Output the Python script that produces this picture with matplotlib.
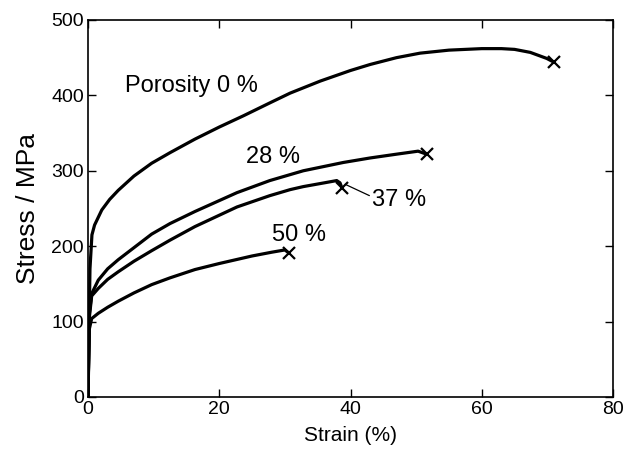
import matplotlib
matplotlib.use("Agg")
import matplotlib.pyplot as plt

plt.rcParams['font.family'] = ['Liberation Sans', 'DejaVu Sans']

# stress-strain curves (strain %, stress MPa)
strain_0 = [0, 0.3, 0.6, 1.0, 2.1, 3.3, 4.6, 7, 9.7, 12.5, 16.3, 20, 23.7, 27.7, 30.8,
            35.4, 40, 43, 47, 50.6, 55, 60, 63, 65, 67.4, 69.9, 71.0]
stress_0 = [0, 170, 215, 228, 248, 262, 274, 293, 310, 324, 342, 358, 373, 390, 403,
            419, 433, 441, 450, 456, 460, 462, 462, 461, 457, 449, 444]

strain_28 = [0, 0.2, 0.56, 1.57, 3, 4.6, 7, 9.7, 12.5, 16.3, 22.7, 27.7, 32.8, 38.9,
             43, 47, 50.3, 51.6]
stress_28 = [0, 110, 137, 155, 170, 182, 198, 216, 230, 246, 271, 287, 300, 311,
             317, 322, 326, 322]

strain_37 = [0, 0.2, 0.56, 1.57, 3, 4.6, 7, 9.7, 12.5, 16.3, 22.7, 27.7, 30.8, 32.8,
             36, 37.9, 38.4, 38.7]
stress_37 = [0, 105, 134, 144, 156, 166, 180, 194, 208, 226, 252, 267, 275, 279,
             284, 287, 284, 277]

strain_50 = [0, 0.2, 0.56, 1.57, 3, 4.6, 7, 9.7, 12.5, 16.3, 20, 25, 28, 30, 30.6]
stress_50 = [0, 90, 104, 111, 119, 127, 138, 149, 158, 169, 177, 187, 192, 195, 191]

curves = [(strain_0, stress_0), (strain_28, stress_28),
          (strain_37, stress_37), (strain_50, stress_50)]

labels = ["Porosity 0 %", "28 %", "37 %", "50 %"]
label_x = [5.6, 24.1, 43.3, 28.0]
label_y = [405, 310, 253, 207]

fig = plt.figure(figsize=(6.34, 4.54), dpi=100)
ax = fig.add_axes([0.1388, 0.1256, 0.8281, 0.8304])

for sx, sy in curves:
    ax.plot(sx, sy, color='black', lw=2.3, solid_capstyle='round',
            solid_joinstyle='round')
    # fracture point
    ax.plot(sx[-1], sy[-1], marker='x', color='black', ms=9, mew=1.6)

for i, txt in enumerate(labels):
    if txt == "37 %":
        # leader line from the fracture mark to the label
        ax.annotate(txt, xy=(strain_37[-1] + 0.5, stress_37[-1] + 5),
                    xytext=(label_x[i], label_y[i]), fontsize=17, va='baseline',
                    arrowprops=dict(arrowstyle='-', lw=0.9, color='black',
                                    relpos=(0, 0.65), shrinkA=0, shrinkB=0))
    else:
        ax.text(label_x[i], label_y[i], txt, fontsize=17, va='baseline')

ax.set_xlim(0, 80)
ax.set_ylim(0, 500)
ax.set_xticks([0, 20, 40, 60, 80])
ax.set_yticks([0, 100, 200, 300, 400, 500])
ax.tick_params(direction='in', top=True, right=True, length=6, width=1,
               labelsize=14, pad=3)
for sp in ax.spines.values():
    sp.set_linewidth(1.2)

ax.set_xlabel("Strain (%)", fontsize=15, labelpad=6)
ax.set_ylabel("Stress / MPa", fontsize=19, labelpad=8)

fig.savefig("out.png", dpi=100)
